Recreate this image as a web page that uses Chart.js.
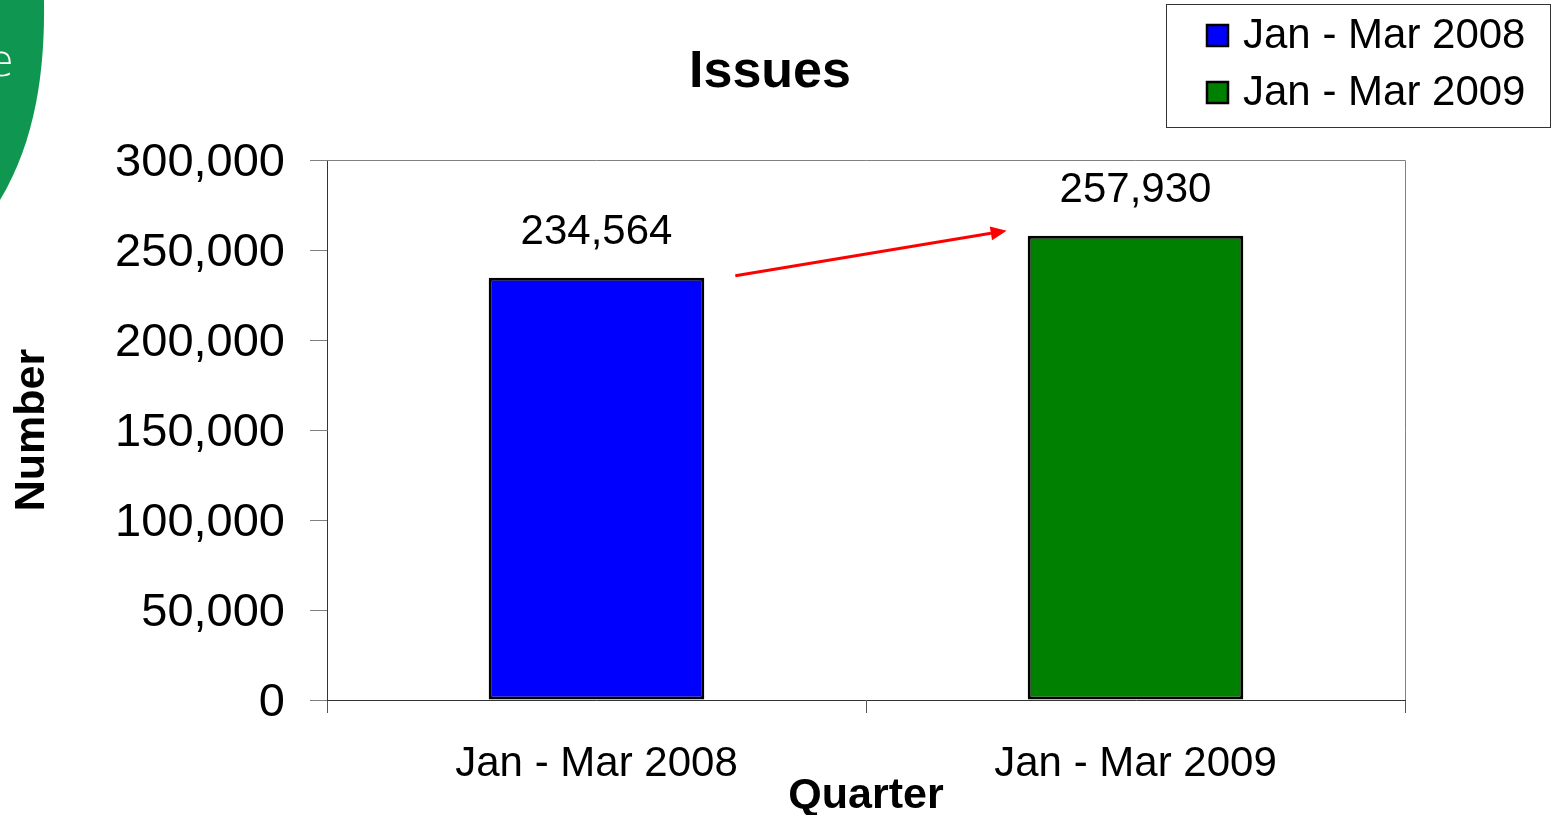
<!DOCTYPE html>
<html>
<head>
<meta charset="utf-8">
<title>Issues</title>
<script src="https://cdn.jsdelivr.net/npm/chart.js@4/dist/chart.umd.min.js"></script>
<style>
  html, body { margin: 0; padding: 0; background: #ffffff; }
  canvas { display: block; }
</style>
</head>
<body>
<canvas id="chart" width="1553" height="815"></canvas>
<script>
// Quarterly issues, first quarter of each year
const categories = ['Jan - Mar 2008', 'Jan - Mar 2009'];
const issues = [234564, 257930];
const barColors = ['#0000FF', '#008000'];
const yTicks = [0, 50000, 100000, 150000, 200000, 250000, 300000];

const FONT = '"Liberation Sans", Arial, Helvetica, sans-serif';
const fmt = v => Number(v).toLocaleString('en-US');

// Slide decoration in the top-left corner
const cornerArt = {
  id: 'cornerArt',
  beforeDraw(chart) {
    const ctx = chart.ctx;
    ctx.save();
    ctx.fillStyle = '#0f9650';
    ctx.beginPath();
    ctx.moveTo(0, 0);
    ctx.lineTo(44, 0);
    ctx.bezierCurveTo(45, 70, 36, 140, 0, 200);
    ctx.closePath();
    ctx.fill();
    ctx.fillStyle = '#ffffff';
    ctx.font = '300 44px "DejaVu Sans", ' + FONT;
    ctx.textBaseline = 'alphabetic';
    ctx.fillText('e', -13, 76);
    ctx.restore();
  }
};

// Plot-area frame (top and right edges in light grey)
const plotFrame = {
  id: 'plotFrame',
  beforeDatasetsDraw(chart) {
    const {ctx, chartArea: a} = chart;
    ctx.save();
    ctx.strokeStyle = '#808080';
    ctx.lineWidth = 1;
    ctx.beginPath();
    ctx.moveTo(a.left, a.top + 0.5);
    ctx.lineTo(a.right + 0.5, a.top + 0.5);
    ctx.lineTo(a.right + 0.5, a.bottom);
    ctx.stroke();
    ctx.restore();
  }
};

// Chart title
const titleText = {
  id: 'titleText',
  afterDraw(chart) {
    const ctx = chart.ctx;
    ctx.save();
    ctx.fillStyle = '#000';
    ctx.font = 'bold 52px ' + FONT;
    ctx.textAlign = 'center';
    ctx.textBaseline = 'alphabetic';
    ctx.fillText('Issues', 770, 87);
    ctx.restore();
  }
};

// Value labels above each bar and the growth arrow between them
const barNotes = {
  id: 'barNotes',
  afterDatasetsDraw(chart) {
    const ctx = chart.ctx;
    const bars = chart.getDatasetMeta(0).data;
    const values = chart.data.datasets[0].data;
    ctx.save();
    ctx.fillStyle = '#000';
    ctx.font = '42px ' + FONT;
    ctx.textAlign = 'center';
    ctx.textBaseline = 'middle';
    bars.forEach((b, i) => ctx.fillText(fmt(values[i]), b.x, b.y - 45));

    const b0 = bars[0], b1 = bars[1];
    const x0 = b0.x + b0.width / 2 + 31, y0 = b0.y - 2;
    const x1 = b1.x - b1.width / 2 - 21, y1 = b1.y - 5;
    const ang = Math.atan2(y1 - y0, x1 - x0);
    const head = 16, half = 7;
    ctx.strokeStyle = '#FF0000';
    ctx.fillStyle = '#FF0000';
    ctx.lineWidth = 3;
    ctx.beginPath();
    ctx.moveTo(x0, y0);
    ctx.lineTo(x1 - head * Math.cos(ang), y1 - head * Math.sin(ang));
    ctx.stroke();
    ctx.beginPath();
    ctx.moveTo(x1, y1);
    ctx.lineTo(x1 - head * Math.cos(ang) + half * Math.sin(ang), y1 - head * Math.sin(ang) - half * Math.cos(ang));
    ctx.lineTo(x1 - head * Math.cos(ang) - half * Math.sin(ang), y1 - head * Math.sin(ang) + half * Math.cos(ang));
    ctx.closePath();
    ctx.fill();
    ctx.restore();
  }
};

// Boxed legend listing each quarter with its bar colour
const boxLegend = {
  id: 'boxLegend',
  afterDraw(chart) {
    const ctx = chart.ctx;
    ctx.save();
    ctx.fillStyle = '#ffffff';
    ctx.fillRect(1166, 4, 384, 123);
    ctx.strokeStyle = '#333';
    ctx.lineWidth = 1;
    ctx.strokeRect(1166.5, 4.5, 384, 123);
    ctx.font = '42px ' + FONT;
    ctx.textAlign = 'left';
    ctx.textBaseline = 'middle';
    categories.forEach((c, i) => {
      const cy = 36 + i * 57;
      ctx.fillStyle = barColors[i];
      ctx.fillRect(1207, cy - 11, 21, 21);
      ctx.strokeStyle = '#000';
      ctx.lineWidth = 2.5;
      ctx.strokeRect(1207, cy - 11, 21, 21);
      ctx.fillStyle = '#000';
      ctx.fillText(c, 1243, cy);
    });
    ctx.restore();
  }
};

new Chart(document.getElementById('chart'), {
  type: 'bar',
  data: {
    labels: categories,
    datasets: [{
      label: 'Issues',
      data: issues,
      backgroundColor: barColors,
      borderColor: '#000000',
      borderWidth: 3,
      borderSkipped: false,
      barPercentage: 0.4,
      categoryPercentage: 1.0
    }]
  },
  options: {
    responsive: false,
    animation: false,
    devicePixelRatio: 1,
    layout: { padding: { top: 160, right: 148, left: 0, bottom: 0 } },
    plugins: {
      legend: { display: false },
      tooltip: { enabled: false },
      title: { display: false }
    },
    scales: {
      x: {
        afterFit(scale) { scale.height = 115; },
        grid: {
          display: true, offset: true, drawOnChartArea: false,
          drawTicks: true, tickLength: 13, color: '#555'
        },
        border: { display: true, color: '#333', width: 1 },
        ticks: { color: '#000', font: { family: FONT, size: 42 }, padding: 26, maxRotation: 0 },
        title: {
          display: true, text: 'Quarter', color: '#000',
          font: { family: FONT, size: 43, weight: 'bold', lineHeight: 0.9 },
          padding: { top: 0, bottom: 0 }
        }
      },
      y: {
        min: 0, max: 300000,
        afterFit(scale) { scale.width = 327; },
        afterBuildTicks(scale) { scale.ticks = yTicks.map(v => ({ value: v })); },
        grid: {
          display: true, drawOnChartArea: false, drawTicks: true,
          tickLength: 17, color: '#808080'
        },
        border: { display: true, color: '#333', width: 1 },
        ticks: {
          color: '#000', font: { family: FONT, size: 47 }, padding: 25,
          labelOffset: 3,
          callback: v => fmt(v)
        },
        title: {
          display: true, text: 'Number', color: '#000',
          font: { family: FONT, size: 43, weight: 'bold', lineHeight: 1 },
          padding: { top: 11, bottom: 0 }
        }
      }
    }
  },
  plugins: [cornerArt, plotFrame, barNotes, titleText, boxLegend]
});
</script>
</body>
</html>
